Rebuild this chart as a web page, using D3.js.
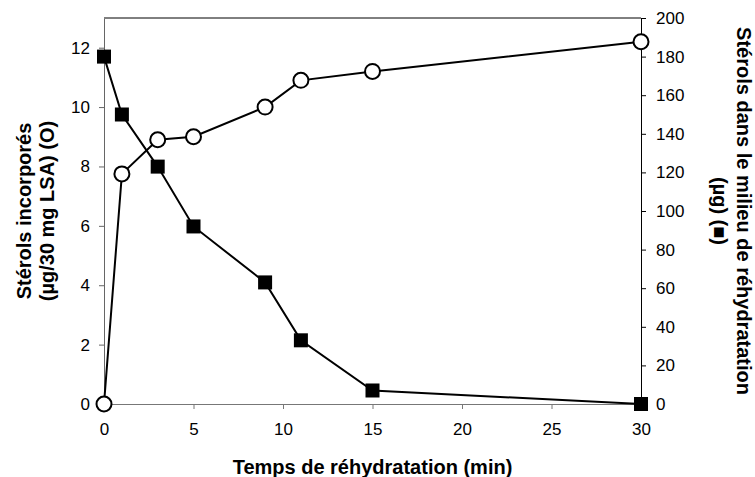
<!DOCTYPE html>
<html>
<head>
<meta charset="utf-8">
<script src="https://cdn.jsdelivr.net/npm/d3@7"></script>
<style>
  body { margin: 0; background: #fff; }
  svg { font-family: Arial, "Liberation Sans", sans-serif; }
</style>
</head>
<body>
<script>
// rehydration time (min)
const times = [0, 1, 3, 5, 9, 11, 15, 30];
// sterols incorporated (µg/30 mg LSA) - open circles, left axis
const incorporated = [0, 7.75, 8.9, 9.0, 10.0, 10.9, 11.2, 12.2];
// sterols left in the medium (µg) - filled squares, right axis
const inMedium = [180, 150, 123, 92, 63, 33, 7, 0];

const xTicks = [0, 5, 10, 15, 20, 25, 30];
const leftTicks = [0, 2, 4, 6, 8, 10, 12];
const rightTicks = d3.range(0, 201, 20);

const width = 755, height = 477;
const margin = {top: 18, right: 114, bottom: 73, left: 104};

let svg = d3.select("body")
    .append("svg")
    .attr("width", width)
    .attr("height", height);

let x = d3.scaleLinear().domain([0, 30]).range([margin.left, width - margin.right]);
let yL = d3.scaleLinear().domain([0, 13]).range([height - margin.bottom, margin.top]);
let yR = d3.scaleLinear().domain([0, 200]).range([height - margin.bottom, margin.top]);

// top border
svg.append("line")
    .attr("x1", x(0)).attr("x2", x(30))
    .attr("y1", yL(13)).attr("y2", yL(13))
    .attr("stroke", "#000");

let styleAxis = function(g, color){
    g.select(".domain").attr("stroke", color);
    g.selectAll(".tick line").attr("stroke", color);
    g.selectAll(".tick text").attr("fill", "#000").attr("font-size", 17);
}

svg.append("g")
    .attr("transform", `translate(0,${height - margin.bottom})`)
    .call(d3.axisBottom(x).tickValues(xTicks).tickSize(5).tickPadding(14).tickSizeOuter(0))
    .call(g => styleAxis(g, "#777"));

svg.append("g")
    .attr("transform", `translate(${margin.left},0)`)
    .call(d3.axisLeft(yL).tickValues(leftTicks).tickSize(5).tickPadding(9).tickSizeOuter(0))
    .call(g => styleAxis(g, "#666"));

svg.append("g")
    .attr("transform", `translate(${width - margin.right},0)`)
    .call(d3.axisRight(yR).tickValues(rightTicks).tickSize(5).tickPadding(10).tickSizeOuter(0))
    .call(g => styleAxis(g, "#000"));

svg.selectAll(".domain").attr("shape-rendering", "crispEdges");

// circles series
let circleData = times.map((t, i) => ({t, v: incorporated[i]}));
svg.append("path")
    .datum(circleData)
    .attr("fill", "none")
    .attr("stroke", "#000")
    .attr("stroke-width", 2)
    .attr("d", d3.line().x(d => x(d.t)).y(d => yL(d.v)));

// squares series
let squareData = times.map((t, i) => ({t, v: inMedium[i]}));
svg.append("path")
    .datum(squareData)
    .attr("fill", "none")
    .attr("stroke", "#000")
    .attr("stroke-width", 2)
    .attr("d", d3.line().x(d => x(d.t)).y(d => yR(d.v)));

svg.selectAll("circle.pt")
    .data(circleData)
    .enter().append("circle")
    .attr("class", "pt")
    .attr("cx", d => x(d.t))
    .attr("cy", d => yL(d.v))
    .attr("r", 7.5)
    .attr("fill", "#fff")
    .attr("stroke", "#000")
    .attr("stroke-width", 2);

const sq = 14;
svg.selectAll("rect.pt")
    .data(squareData)
    .enter().append("rect")
    .attr("class", "pt")
    .attr("x", d => x(d.t) - sq / 2)
    .attr("y", d => yR(d.v) - sq / 2)
    .attr("width", sq)
    .attr("height", sq)
    .attr("fill", "#000");

// titles
let midY = (margin.top + height - margin.bottom) / 2;

svg.append("text")
    .attr("x", (x(0) + x(30)) / 2)
    .attr("y", 474)
    .attr("text-anchor", "middle")
    .attr("font-size", 20)
    .attr("font-weight", "bold")
    .text("Temps de réhydratation (min)");

let leftTitle = svg.append("text")
    .attr("transform", `translate(0,${midY}) rotate(-90)`)
    .attr("text-anchor", "middle")
    .attr("font-size", 20)
    .attr("font-weight", "bold");
leftTitle.append("tspan").attr("x", 0).attr("y", 31).text("Stérols incorporés");
leftTitle.append("tspan").attr("x", 0).attr("y", 54).text("(µg/30 mg LSA) (O)");

let rightTitle = svg.append("text")
    .attr("transform", `translate(${width},${midY}) rotate(90)`)
    .attr("text-anchor", "middle")
    .attr("font-size", 20)
    .attr("font-weight", "bold");
rightTitle.append("tspan").attr("x", 0).attr("y", 18).text("Stérols dans le milieu de réhydratation");
rightTitle.append("tspan").attr("x", 0).attr("y", 42).text("(µg) (■)");
</script>
</body>
</html>
